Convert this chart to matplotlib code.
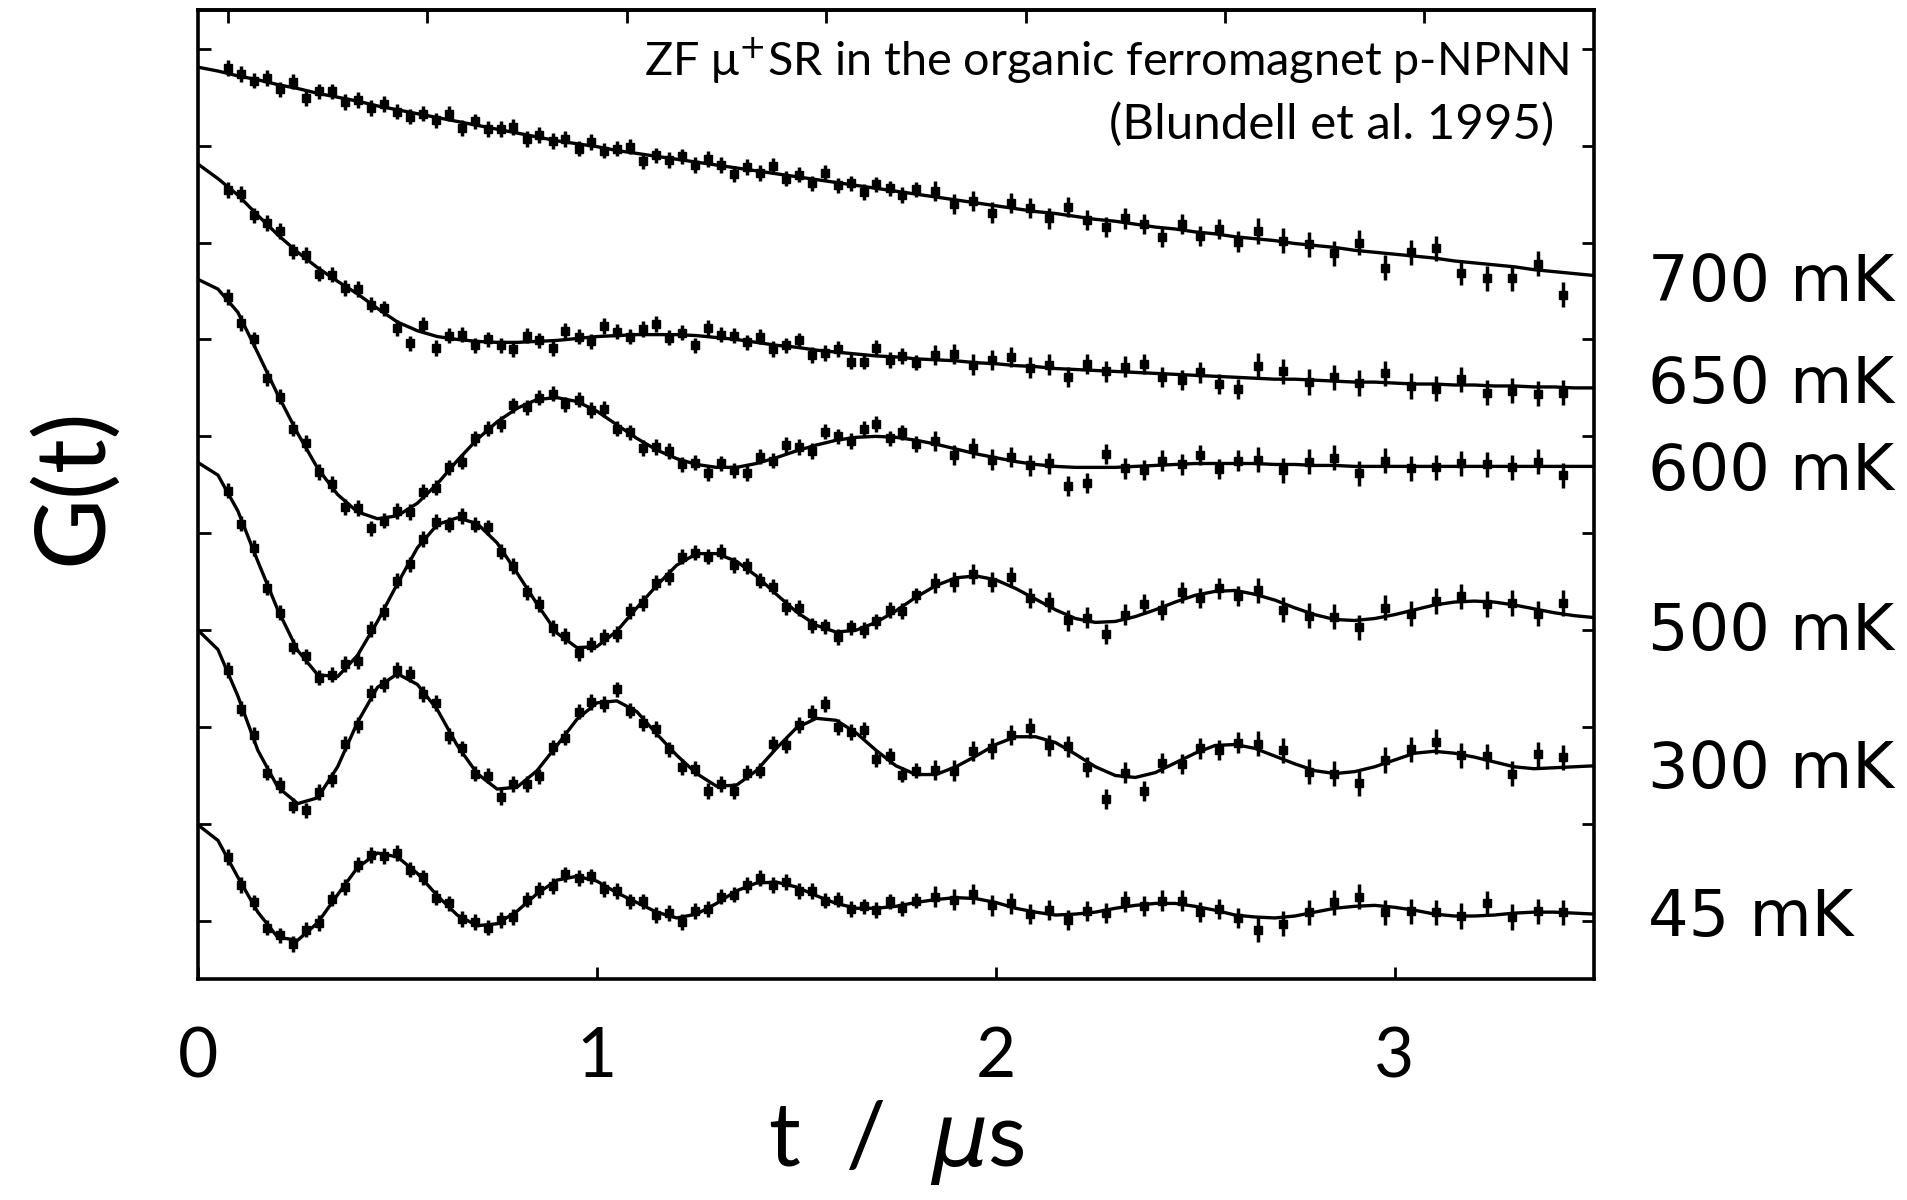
import numpy as np
import matplotlib.pyplot as plt
from matplotlib import font_manager as fm

# data times (bin centres, us); binning gets coarser at late times
T_DATA = [0.076, 0.109, 0.141, 0.174, 0.206, 0.239, 0.271, 0.304, 0.336, 0.369,
          0.401, 0.434, 0.466, 0.499, 0.531, 0.564, 0.596, 0.629, 0.661, 0.694,
          0.726, 0.759, 0.791, 0.824, 0.856, 0.889, 0.921, 0.954, 0.986, 1.019,
          1.051, 1.084, 1.116, 1.149, 1.181, 1.214, 1.246, 1.279, 1.311, 1.344,
          1.376, 1.409, 1.441, 1.474, 1.506, 1.539, 1.571, 1.604, 1.636, 1.669,
          1.701, 1.734, 1.766, 1.799,
          1.848, 1.896, 1.943, 1.991, 2.038, 2.086, 2.133, 2.181, 2.228, 2.276,
          2.323, 2.371, 2.418, 2.466, 2.513, 2.561, 2.608,
          2.657, 2.721, 2.785, 2.848, 2.912, 2.976, 3.040, 3.104, 3.167, 3.231,
          3.295, 3.359, 3.423]
ERR = [0.8] * 54 + [1.05] * 17 + [1.3] * 13

# offset asymmetry (arbitrary units, curves stacked)
DATA_700 = [94.0, 93.4, 92.7, 93.0, 91.8, 92.6, 90.9, 91.6, 91.6, 90.5,
            90.7, 89.9, 90.3, 89.5, 89.0, 89.3, 88.6, 89.3, 87.8, 88.5,
            87.7, 87.7, 87.9, 86.7, 87.1, 86.5, 86.7, 85.7, 86.4, 85.5,
            85.7, 85.9, 84.4, 85.0, 84.5, 84.9, 84.0, 84.6, 84.0, 83.1,
            83.8, 83.2, 83.9, 82.6, 83.0, 82.1, 83.2, 81.9, 82.1, 81.2,
            82.0, 81.6, 80.9, 81.5,
            81.3, 80.0, 80.3, 79.1, 80.1, 79.6, 78.5, 79.7, 78.3, 77.6,
            78.5, 77.9, 76.6, 77.9, 76.7, 77.4, 76.1,
            77.2, 76.2, 75.8, 74.9, 76.0, 73.4, 75.0, 75.4, 72.9, 72.3,
            72.3, 73.8, 70.6]
DATA_650 = [81.4, 81.0, 78.8, 78.0, 77.2, 75.1, 74.7, 72.8, 72.7, 71.3,
            71.2, 69.6, 69.2, 67.2, 65.6, 67.5, 65.1, 66.4, 66.5, 65.4,
            66.0, 65.4, 65.0, 66.4, 65.9, 65.1, 66.9, 66.3, 65.8, 67.4,
            66.8, 66.3, 67.1, 67.6, 66.2, 66.7, 65.4, 67.2, 66.5, 66.4,
            65.7, 66.3, 65.0, 65.4, 65.9, 64.4, 64.6, 65.0, 63.7, 63.7,
            65.1, 63.9, 64.3, 63.6,
            64.4, 64.5, 63.4, 63.9, 64.2, 63.1, 63.4, 62.1, 63.5, 62.7,
            63.2, 63.5, 62.1, 61.8, 62.6, 61.4, 60.9,
            63.3, 62.7, 61.6, 62.1, 61.5, 62.5, 61.2, 60.9, 61.9, 60.5,
            60.7, 60.4, 60.5]
DATA_600 = [70.4, 67.7, 66.0, 62.0, 60.1, 56.8, 55.3, 52.3, 51.1, 48.7,
            48.6, 46.5, 47.3, 48.3, 48.2, 50.3, 50.7, 52.8, 53.4, 55.8,
            56.8, 57.3, 59.2, 59.0, 60.0, 60.4, 59.3, 59.8, 58.7, 58.8,
            56.8, 56.4, 54.8, 54.9, 54.5, 53.1, 53.3, 52.2, 53.2, 52.5,
            52.2, 53.9, 53.5, 55.1, 54.9, 54.5, 56.5, 56.0, 55.5, 56.8,
            57.3, 55.8, 56.4, 55.2,
            55.5, 54.1, 54.8, 53.6, 53.9, 53.0, 53.2, 50.9, 51.2, 54.2,
            52.7, 52.5, 53.5, 53.1, 54.1, 52.6, 53.5,
            53.6, 52.5, 53.4, 53.8, 52.2, 53.5, 52.7, 52.8, 53.2, 53.1,
            52.8, 53.4, 52.0]
DATA_500 = [50.4, 47.0, 44.5, 40.4, 37.8, 34.3, 33.3, 31.1, 31.4, 32.5,
            32.8, 36.1, 37.9, 41.1, 42.8, 45.4, 47.2, 46.9, 47.8, 46.9,
            46.6, 44.1, 42.6, 39.9, 38.7, 36.2, 35.4, 33.6, 34.5, 35.3,
            35.6, 38.0, 38.8, 40.9, 41.5, 43.6, 44.0, 43.6, 44.1, 42.7,
            42.6, 41.1, 40.5, 38.4, 38.3, 36.5, 36.4, 35.3, 36.3, 36.0,
            36.9, 38.1, 38.0, 39.6,
            40.9, 41.0, 41.8, 41.0, 41.5, 39.3, 38.9, 37.0, 37.3, 35.6,
            37.6, 38.7, 38.1, 39.9, 39.3, 40.3, 39.5,
            40.1, 38.1, 37.5, 37.4, 36.3, 38.3, 37.7, 39.0, 39.5, 38.7,
            38.8, 37.7, 38.8]
DATA_300 = [31.9, 27.9, 25.2, 21.3, 20.0, 17.9, 17.4, 19.3, 20.6, 24.3,
            26.2, 29.5, 30.4, 31.9, 31.5, 29.4, 28.5, 25.1, 23.8, 21.2,
            21.0, 18.8, 20.1, 20.1, 20.9, 23.9, 24.9, 27.6, 28.6, 28.4,
            29.9, 27.7, 26.4, 25.8, 23.7, 21.9, 21.7, 19.4, 20.1, 19.4,
            21.3, 21.5, 24.3, 24.1, 26.2, 27.5, 28.4, 26.0, 25.5, 25.7,
            22.7, 23.0, 21.1, 21.5,
            21.6, 21.5, 23.5, 23.8, 25.2, 25.9, 24.1, 24.0, 21.9, 18.6,
            21.3, 19.4, 22.3, 22.2, 23.8, 23.6, 24.4,
            24.3, 23.6, 21.4, 21.2, 20.2, 22.6, 23.7, 24.5, 23.1, 23.0,
            21.2, 23.2, 22.9]
DATA_45 = [12.6, 9.7, 7.9, 5.3, 4.5, 3.6, 5.1, 5.8, 8.3, 9.5,
           11.8, 12.8, 12.7, 13.0, 11.3, 10.5, 8.4, 7.8, 6.2, 5.9,
           5.3, 6.1, 6.4, 8.2, 9.2, 9.6, 10.8, 10.4, 10.6, 9.3,
           9.1, 8.0, 8.0, 6.6, 6.8, 5.9, 7.0, 7.2, 8.5, 8.7,
           9.7, 10.4, 9.7, 10.0, 9.1, 9.1, 8.1, 8.2, 7.2, 7.5,
           7.1, 8.0, 7.3, 8.1,
           8.5, 8.2, 8.8, 7.6, 7.8, 6.7, 7.1, 6.1, 7.0, 6.8,
           8.0, 7.5, 8.1, 8.1, 6.9, 7.2, 6.3,
           5.1, 5.7, 6.9, 7.9, 8.5, 6.9, 7.0, 6.9, 6.5, 7.8,
           6.4, 7.0, 6.9]

# fitted curves sampled every 0.05 us from 0 to 3.5
FIT_T = np.linspace(0.0, 3.5, 71)
FIT_700 = [94.1, 93.7, 93.2, 92.8, 92.3, 91.9, 91.4, 91.0, 90.6, 90.1,
           89.7, 89.3, 88.9, 88.5, 88.1, 87.7, 87.3, 86.9, 86.5, 86.2,
           85.9, 85.5, 85.2, 84.9, 84.6, 84.3, 84.0, 83.7, 83.4, 83.1,
           82.8, 82.5, 82.2, 81.9, 81.6, 81.3, 81.0, 80.7, 80.4, 80.1,
           79.8, 79.5, 79.2, 79.0, 78.7, 78.4, 78.2, 77.9, 77.6, 77.4,
           77.1, 76.9, 76.6, 76.4, 76.2, 75.9, 75.7, 75.5, 75.2, 75.0,
           74.8, 74.6, 74.4, 74.1, 73.9, 73.7, 73.5, 73.2, 73.0, 72.8, 72.6]
FIT_650 = [84.1, 82.6, 80.9, 78.8, 76.8, 75.0, 73.4, 72.0, 70.7, 69.2,
           67.8, 66.9, 66.3, 66.0, 65.8, 65.7, 65.7, 65.8, 65.9, 66.1,
           66.3, 66.4, 66.5, 66.5, 66.5, 66.4, 66.2, 66.0, 65.7, 65.4,
           65.2, 64.9, 64.7, 64.5, 64.3, 64.2, 64.0, 63.9, 63.8, 63.6,
           63.5, 63.3, 63.2, 63.0, 62.9, 62.8, 62.7, 62.6, 62.5, 62.4,
           62.3, 62.2, 62.1, 62.0, 61.9, 61.9, 61.8, 61.7, 61.6, 61.6,
           61.5, 61.4, 61.4, 61.3, 61.3, 61.2, 61.2, 61.1, 61.1, 61.0, 61.0]
FIT_600 = [72.2, 71.2, 68.8, 64.6, 60.3, 56.3, 52.7, 50.0, 48.2, 47.5,
           47.8, 49.1, 51.1, 53.5, 55.7, 57.5, 58.9, 59.8, 60.0, 59.6,
           58.6, 57.2, 55.8, 54.6, 53.7, 53.1, 52.8, 52.8, 53.2, 53.8,
           54.5, 55.1, 55.6, 55.9, 56.0, 55.9, 55.6, 55.2, 54.7, 54.2,
           53.8, 53.4, 53.1, 52.9, 52.8, 52.8, 52.8, 52.9, 53.0, 53.1,
           53.2, 53.2, 53.2, 53.2, 53.1, 53.1, 53.0, 53.0, 52.9, 52.9,
           52.9, 52.9, 52.9, 52.9, 52.9, 52.9, 52.9, 52.9, 52.9, 52.9, 52.9]
FIT_500 = [53.3, 52.0, 48.3, 43.1, 38.1, 33.9, 31.4, 31.2, 33.4, 36.9,
           40.8, 44.5, 46.9, 47.6, 47.0, 45.0, 41.9, 38.7, 35.7, 34.2,
           34.3, 35.9, 38.3, 40.6, 42.7, 43.9, 43.9, 43.1, 41.6, 39.7,
           37.9, 36.5, 35.8, 36.0, 36.8, 38.0, 39.4, 40.6, 41.4, 41.6,
           41.2, 40.3, 39.2, 38.1, 37.2, 36.8, 36.9, 37.4, 38.1, 38.9,
           39.6, 40.0, 40.1, 39.7, 39.1, 38.3, 37.6, 37.1, 37.0, 37.2,
           37.6, 38.1, 38.6, 38.9, 39.0, 38.9, 38.6, 38.2, 37.8, 37.5, 37.3]
FIT_300 = [36.0, 34.0, 29.2, 23.6, 19.8, 18.1, 18.7, 21.9, 26.5, 30.1,
           31.5, 30.4, 27.8, 24.1, 21.2, 19.6, 19.8, 21.5, 24.1, 26.8,
           28.5, 28.7, 27.6, 25.3, 23.1, 21.2, 19.9, 20.0, 21.5, 23.8,
           25.9, 26.9, 26.7, 25.4, 23.6, 22.0, 21.1, 21.1, 21.9, 23.0,
           24.2, 25.0, 25.0, 24.4, 23.2, 21.9, 21.0, 20.8, 21.3, 22.3,
           23.3, 24.1, 24.2, 23.8, 23.0, 22.2, 21.5, 21.2, 21.4, 21.9,
           22.6, 23.3, 23.5, 23.3, 22.9, 22.4, 21.9, 21.7, 21.8, 21.9, 22.0]
FIT_45 = [15.9, 14.3, 10.5, 6.9, 4.3, 4.0, 5.8, 8.7, 11.5, 13.0,
          12.6, 10.9, 8.6, 6.6, 5.5, 5.7, 7.0, 8.8, 10.2, 10.6,
          10.1, 8.9, 7.9, 6.9, 6.3, 6.7, 7.8, 9.1, 9.9, 10.0,
          9.5, 8.6, 7.8, 7.3, 7.3, 7.5, 7.9, 8.2, 8.4, 8.3,
          7.9, 7.3, 6.9, 6.6, 6.7, 6.9, 7.3, 7.6, 7.8, 7.8,
          7.5, 7.1, 6.6, 6.4, 6.3, 6.5, 6.9, 7.3, 7.5, 7.6,
          7.4, 7.1, 6.7, 6.5, 6.5, 6.6, 6.8, 6.9, 6.9, 6.8, 6.7]

LABELS = ["700 mK", "650 mK", "600 mK", "500 mK", "300 mK", "45 mK"]
LABEL_Y = [71.8, 61.3, 52.3, 35.8, 21.6, 6.3]
SERIES = [DATA_700, DATA_650, DATA_600, DATA_500, DATA_300, DATA_45]
FITS = [FIT_700, FIT_650, FIT_600, FIT_500, FIT_300, FIT_45]

X_TICKS = [0, 1, 2, 3]
TOP_TICKS = [0.075, 0.575, 1.075, 1.575, 2.075, 2.575, 3.075]
Y_TICKS = [6, 16, 26, 36, 46, 56, 66, 76, 86, 96]

# lighter-looking sans for axis text: take the first installed one
_installed = {f.name for f in fm.fontManager.ttflist}
THIN = next((n for n in ["Lato", "Open Sans", "Roboto"] if n in _installed),
            "DejaVu Sans")

fig = plt.figure(figsize=(19.07, 12), dpi=100)
ax = fig.add_axes([198 / 1907, 221 / 1200, 1396 / 1907, 969 / 1200])

for label, ly, data, fit in zip(LABELS, LABEL_Y, SERIES, FITS):
    ax.plot(FIT_T, fit, color="black", lw=2.4, zorder=2)
    ax.errorbar(T_DATA, data, yerr=ERR, fmt="s", ms=5.5, color="black",
                ecolor="black", elinewidth=2.5, capsize=0, zorder=3)
    ax.text(3.635, ly, label, fontsize=46, ha="left", va="center",
            family="DejaVu Sans")

ax.set_xlim(0, 3.5)
ax.set_ylim(0, 100)
ax.set_xticks(X_TICKS)
ax.set_yticks(Y_TICKS)
ax.tick_params(axis="x", direction="in", length=9, width=2, pad=34,
               labelsize=50)
for lbl in ax.get_xticklabels():
    lbl.set_family(THIN)
ax.tick_params(axis="y", direction="in", length=9, width=2, left=True,
               right=True, labelleft=False)
top = ax.secondary_xaxis("top")
top.set_xticks(TOP_TICKS)
top.tick_params(direction="in", length=9, width=2, labeltop=False)
for sp in list(ax.spines.values()) + [top.spines["top"]]:
    sp.set_linewidth(2.6)

ax.set_xlabel(r"t  /  $\mu$s", fontsize=64, va="center", family=THIN)
ax.xaxis.set_label_coords(0.5, -0.169)
ax.set_ylabel("G(t)", fontsize=70, va="center", family=THIN)
ax.yaxis.set_label_coords(-0.0895, 0.509)

note1 = ax.text(3.437, 94.7, r"ZF μ$^{+}$SR in the organic ferromagnet p-NPNN",
                fontsize=38, ha="right", va="center", family=THIN)
note2 = ax.text(3.40, 88.2, "(Blundell et al. 1995)",
                fontsize=38, ha="right", va="center", family=THIN)

# size the note lines to the width they take in the original
fig.canvas.draw()
renderer = fig.canvas.get_renderer()
for txt, width_px in [(note1, 925), (note2, 445)]:
    w = txt.get_window_extent(renderer).width
    txt.set_fontsize(txt.get_fontsize() * width_px / w)

fig.savefig("out.png", dpi=100)
